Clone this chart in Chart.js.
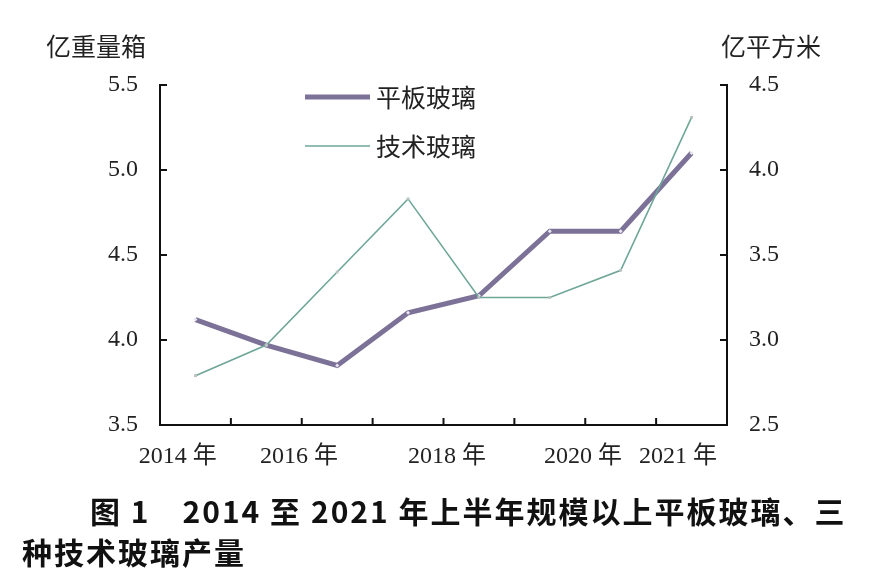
<!DOCTYPE html>
<html>
<head>
<meta charset="utf-8">
<script src="https://cdn.jsdelivr.net/npm/chart.js@4.4.1/dist/chart.umd.min.js"></script>
<style>
  html, body { margin: 0; padding: 0; background: #fff; }
  #wrap { position: relative; width: 890px; height: 583px; overflow: hidden; }
  #c { position: absolute; left: 0; top: 0; }
  .unit { position: absolute; font-family: "Noto Sans CJK SC", sans-serif; font-size: 25px; color: #222; line-height: 30px; }
  #caption { position: absolute; left: 22px; top: 490px; font-family: "Noto Sans CJK SC", sans-serif; font-weight: bold;
             font-size: 30px; letter-spacing: 2px; line-height: 41px; color: #111; white-space: pre; }
  #caption .first { padding-left: 68px; }
</style>
</head>
<body>
<div id="wrap">
  <canvas id="c" width="890" height="583"></canvas>
  <div class="unit" style="left:46px; top:30px;">亿重量箱</div>
  <div class="unit" style="left:721px; top:30px;">亿平方米</div>
  <div id="caption"><span class="first">图 1　2014 至 2021 年上半年规模以上平板玻璃、三</span>
种技术玻璃产量</div>
</div>
<script>
// 数据（2014—2021 年上半年）
const years = ['2014', '2015', '2016', '2017', '2018', '2019', '2020', '2021'];
const pingban = [4.12, 3.97, 3.85, 4.16, 4.26, 4.64, 4.64, 5.10];   // 亿重量箱
const jishu = [2.79, 2.97, 3.40, 3.83, 3.25, 3.25, 3.41, 4.31];     // 亿平方米
const xLabels = ['2014 年', '2016 年', '2018 年', '2020 年', '2021 年'];
const leftTicks = [3.5, 4.0, 4.5, 5.0, 5.5];
const rightTicks = [2.5, 3.0, 3.5, 4.0, 4.5];

// 横轴文字的位置（按类别格子计）
const labelSlots = [0.25, 1.96, 4.05, 5.97, 7.31];

const serif = '"Liberation Serif", "Times New Roman", "DejaVu Serif", "Noto Sans CJK SC", serif';
const tickFont = { family: serif, size: 24 };

// 画朝里的刻度线
const innerTicks = {
  id: 'innerTicks',
  afterDraw(chart) {
    const ctx = chart.ctx;
    const a = chart.chartArea;
    const x = chart.scales.x, yl = chart.scales.y, yr = chart.scales.y2;
    ctx.save();
    ctx.strokeStyle = '#111';
    ctx.lineWidth = 2;
    ctx.beginPath();
    yl.ticks.forEach(t => {
      const py = yl.getPixelForValue(t.value);
      ctx.moveTo(a.left, py); ctx.lineTo(a.left + 7, py);
    });
    yr.ticks.forEach(t => {
      const py = yr.getPixelForValue(t.value);
      ctx.moveTo(a.right, py); ctx.lineTo(a.right - 7, py);
    });
    for (let i = 1; i < years.length; i++) {
      const px = (x.getPixelForValue(i - 1) + x.getPixelForValue(i)) / 2;
      ctx.moveTo(px, a.bottom); ctx.lineTo(px, a.bottom - 7);
    }
    ctx.stroke();
    ctx.restore();
  }
};

// 图例
const legendBox = {
  id: 'legendBox',
  afterDraw(chart) {
    const ctx = chart.ctx;
    ctx.save();
    chart.data.datasets.forEach((ds, i) => {
      const y = 97 + i * 49;
      ctx.strokeStyle = ds.borderColor;
      ctx.lineWidth = ds.borderWidth;
      ctx.beginPath();
      ctx.moveTo(305, y); ctx.lineTo(370, y);
      ctx.stroke();
      ctx.fillStyle = '#222';
      ctx.font = '25px "Noto Sans CJK SC", sans-serif';
      ctx.textBaseline = 'middle';
      ctx.fillText(ds.label, 376, y);
    });
    ctx.restore();
  }
};

function draw() {
  new Chart(document.getElementById('c'), {
    type: 'line',
    data: {
      labels: years,
      datasets: [
        {
          label: '平板玻璃',
          data: pingban,
          yAxisID: 'y',
          borderColor: '#7c7298',
          borderWidth: 5,
          pointStyle: 'rectRot',
          pointRadius: 2,
          pointBackgroundColor: '#e8e6ee',
          pointBorderWidth: 0,
          tension: 0,
          order: 2
        },
        {
          label: '技术玻璃',
          data: jishu,
          yAxisID: 'y2',
          borderColor: '#6fa698',
          borderWidth: 1.6,
          pointStyle: 'rect',
          pointRadius: 2,
          pointBackgroundColor: '#b9c4c0',
          pointBorderWidth: 0,
          tension: 0,
          order: 1
        }
      ]
    },
    options: {
      responsive: false,
      animation: false,
      layout: { padding: { top: 85, bottom: 98, left: 0, right: 0 } },
      plugins: { legend: { display: false }, tooltip: { enabled: false } },
      scales: {
        x: {
          type: 'category',
          offset: true,
          grid: { display: false, drawTicks: false },
          border: { display: true, color: '#111', width: 2 },
          ticks: { display: false },
          afterFit(s) { s.height = 0; }
        },
        xl: {
          type: 'linear',
          position: 'bottom',
          min: 0,
          max: years.length,
          grid: { display: false, drawTicks: false },
          border: { display: false },
          afterBuildTicks(s) { s.ticks = labelSlots.map(v => ({ value: v })); },
          ticks: {
            autoSkip: false,
            maxRotation: 0,
            padding: 17,
            color: '#222',
            font: tickFont,
            callback: (v, i) => xLabels[i]
          },
          afterFit(s) { s.height = 60; }
        },
        y: {
          position: 'left',
          min: 3.5,
          max: 5.5,
          grid: { display: false, drawTicks: false },
          border: { display: true, color: '#111', width: 2 },
          afterBuildTicks(s) { s.ticks = leftTicks.map(v => ({ value: v })); },
          ticks: { padding: 22, color: '#222', font: tickFont, callback: v => v.toFixed(1) },
          afterFit(s) { s.width = 160; }
        },
        y2: {
          position: 'right',
          min: 2.5,
          max: 4.5,
          grid: { display: false, drawTicks: false },
          border: { display: true, color: '#111', width: 2 },
          afterBuildTicks(s) { s.ticks = rightTicks.map(v => ({ value: v })); },
          ticks: { padding: 22, color: '#222', font: tickFont, callback: v => v.toFixed(1) },
          afterFit(s) { s.width = 163; }
        }
      }
    },
    plugins: [innerTicks, legendBox]
  });
}

Promise.all([
  document.fonts.load('24px "Liberation Serif"'),
  document.fonts.load('25px "Noto Sans CJK SC"', '平板玻璃技术年')
]).then(draw, draw);
</script>
</body>
</html>
